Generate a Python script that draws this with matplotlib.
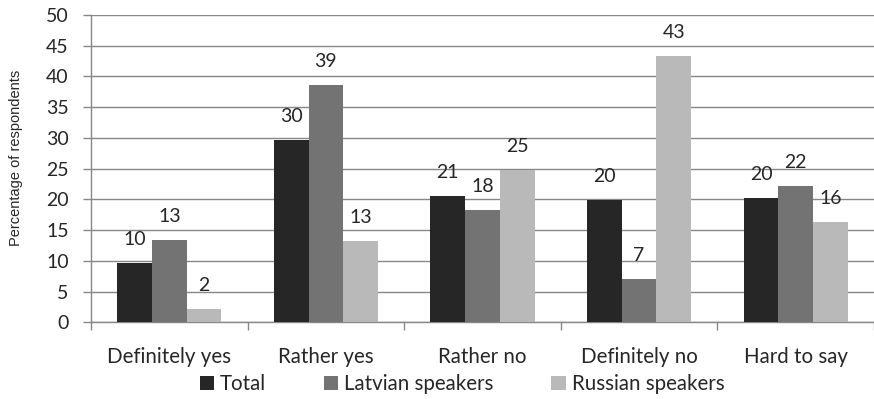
import matplotlib
matplotlib.use("Agg")
import matplotlib.pyplot as plt
from matplotlib.patches import Patch
import numpy as np

categories = ["Definitely yes", "Rather yes", "Rather no", "Definitely no", "Hard to say"]
series_names = ["Total", "Latvian speakers", "Russian speakers"]
total = [9.6, 29.6, 20.6, 19.9, 20.2]
latvian = [13.4, 38.6, 18.3, 7.1, 22.2]
russian = [2.2, 13.3, 24.7, 43.3, 16.3]
y_ticks = [0, 5, 10, 15, 20, 25, 30, 35, 40, 45, 50]
y_label = "Percentage of respondents"

colors = ["#262626", "#737373", "#b9b9b9"]
grid_color = "#878787"
text_color = "#262626"
main_font = ["Lato", "DejaVu Sans"]

fig = plt.figure(figsize=(8.74, 3.99), dpi=100)
ax = fig.add_axes([91 / 874, 1 - 322.3 / 399, 1 - 91 / 874, (322.3 - 15) / 399])

x = np.arange(len(categories))
width = 0.2217
for i, (vals, col) in enumerate(zip([total, latvian, russian], colors)):
    pos = x + (i - 1) * width
    ax.bar(pos, vals, width=width, color=col, zorder=3)
    for px, v in zip(pos, vals):
        ax.annotate(f"{v:.0f}", (px, v), xytext=(0, 23.5), textcoords="offset pixels",
                    ha="center", va="center", fontsize=14, color=text_color,
                    family=main_font)

ax.set_xlim(-0.5, len(categories) - 0.5)
ax.set_ylim(0, 50)
ax.set_yticks(y_ticks)
ax.set_yticklabels([str(t) for t in y_ticks], fontsize=14, color=text_color, family=main_font)
ax.yaxis.grid(True, color=grid_color, linewidth=1.0, zorder=0)
ax.set_axisbelow(True)

ax.set_xticks(x)
ax.set_xticklabels(categories, fontsize=14.8, color=text_color, family=main_font)
ax.set_xticks(np.arange(-0.5, len(categories)), minor=True)
ax.tick_params(axis="x", which="major", length=0, pad=18)
ax.tick_params(axis="x", which="minor", length=6, width=1.0, color=grid_color, direction="out")
ax.tick_params(axis="y", length=6, width=1.0, color=grid_color, pad=10)

for side in ["top", "right"]:
    ax.spines[side].set_visible(False)
for side in ["left", "bottom"]:
    ax.spines[side].set_color(grid_color)
    ax.spines[side].set_linewidth(1.0)

ax.set_ylabel(y_label, fontsize=10.5, color=text_color, family=["Liberation Sans", "DejaVu Sans"])
ax.yaxis.set_label_coords(-68 / 783, (322.3 - 158) / 307.3)

handles = [Patch(facecolor=c, edgecolor="none") for c in colors]
fig.legend(handles, series_names, loc="center", bbox_to_anchor=(462 / 874, 1 - 384 / 399),
           ncol=3, frameon=False, handlelength=0.7, handleheight=0.7, handletextpad=0.3,
           columnspacing=2.8, prop={"family": main_font, "size": 14.8},
           labelcolor=text_color)

fig.savefig("out.png", dpi=100)
